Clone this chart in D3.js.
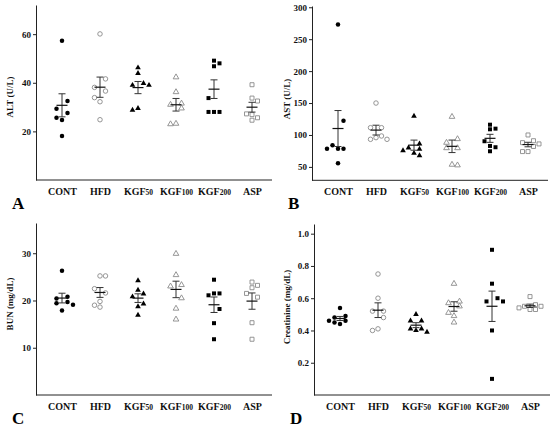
<!DOCTYPE html>
<html>
<head>
<meta charset="utf-8">
<script src="https://cdn.jsdelivr.net/npm/d3@7"></script>
<style>
  body { margin: 0; background: #fff; }
  svg { display: block; }
  text { font-family: "Liberation Serif", "Times New Roman", serif; font-weight: bold; }
</style>
</head>
<body>
<div id="chart"></div>
<script>
// group names on the x axis
var groups = ["CONT", "HFD", "KGF50", "KGF100", "KGF200", "ASP"];

// individual animals per group
var altData = [
  [57.3, 32.5, 29.3, 27.6, 25.6, 24.7, 18.1],
  [60.1, 41.6, 38.1, 36.6, 33.9, 32.2, 24.8],
  [46.2, 43.9, 39.8, 39.0, 39.0, 29.5, 28.8],
  [42.3, 36.2, 31.5, 31.0, 29.5, 23.2, 23.0],
  [49.1, 48.0, 46.8, 33.7, 28.0, 28.0, 28.0],
  [39.2, 33.7, 32.5, 27.2, 26.9, 25.6, 24.6]
];
var astData = [
  [273, 122.3, 83.9, 78.6, 78.6, 78.6, 55.8],
  [150, 111.4, 111.4, 98.4, 95.8, 93.2, 93.2],
  [129.7, 86, 80, 78, 75.5, 71.4, 67.7],
  [128.6, 93.7, 88, 79.5, 79.5, 53.6, 52.6],
  [116.1, 109.9, 108.9, 90.2, 82.8, 80.8, 74.5],
  [100, 91, 88, 86, 82, 74, 74]
];
var bunData = [
  [26.3, 20.8, 20.4, 19.7, 19.4, 19.1, 17.9],
  [25.2, 25.2, 22.5, 21.6, 19.8, 19.0, 18.6],
  [24.2, 22.2, 21.4, 20.8, 19.3, 18.7, 16.9],
  [29.9, 25.4, 23.3, 23.0, 20.5, 18.3, 16.0],
  [24.4, 21.5, 21.5, 21.1, 18.2, 15.2, 11.8],
  [23.9, 23.2, 22.7, 21.5, 20.7, 15.3, 11.8]
];
var creData = [
  [0.54, 0.49, 0.48, 0.46, 0.46, 0.45, 0.44],
  [0.75, 0.60, 0.52, 0.52, 0.48, 0.41, 0.40],
  [0.50, 0.46, 0.46, 0.41, 0.41, 0.40, 0.39],
  [0.69, 0.58, 0.57, 0.55, 0.51, 0.49, 0.45],
  [0.90, 0.69, 0.60, 0.58, 0.58, 0.40, 0.10],
  [0.61, 0.56, 0.55, 0.55, 0.54, 0.53, 0.53]
];

var altTicks = [20, 40, 60];
var astTicks = [50, 100, 150, 200, 250, 300];
var bunTicks = [10, 20, 30];
var creTicks = [0.2, 0.4, 0.6, 0.8, 1.0];

// symbol per group: filled / open circle, triangle, square
var shapes = [d3.symbolCircle, d3.symbolCircle, d3.symbolTriangle, d3.symbolTriangle, d3.symbolSquare, d3.symbolSquare];
var filled = [true, false, true, false, true, false];

var panels = [
  {letter: "A", title: "ALT (U/L)", data: altData, ticks: altTicks, domain: [0, 72],
   left: 36, top: 5, bottom: 180, titleX: 12.5, titleY: 97, fmt: d3.format("d")},
  {letter: "B", title: "AST (U/L)", data: astData, ticks: astTicks, domain: [29, 302],
   left: 312, top: 6, bottom: 180.3, titleX: 290, titleY: 99, fmt: d3.format("d")},
  {letter: "C", title: "BUN (mg/dL)", data: bunData, ticks: bunTicks, domain: [0, 36.4],
   left: 36, top: 223, bottom: 395, titleX: 12.5, titleY: 304, fmt: d3.format("d")},
  {letter: "D", title: "Creatinine (mg/dL)", data: creData, ticks: creTicks, domain: [0, 1.06],
   left: 314, top: 224, bottom: 395, titleX: 290, titleY: 307, fmt: d3.format(".1f")}
];

var W = 550, H = 428, plotW = 236;

var svg = d3.select("#chart")
  .append("svg")
    .attr("width", W)
    .attr("height", H);

// mean and standard error of one group
function stats(vals) {
  var m = d3.mean(vals);
  return {mean: m, sem: d3.deviation(vals) / Math.sqrt(vals.length)};
}

// simple greedy beeswarm: keep points off the error bar and off each other,
// alternating sides like the original plot
function swarm(vals, y, st) {
  var order = vals.map(function(v, i) { return i; })
    .sort(function(a, b) { return vals[b] - vals[a]; });
  var placed = [], side = 1, step = 5.5, minDist = 4.5;
  var barTop = y(st.mean + st.sem) - 2, barBot = y(st.mean - st.sem) + 2;
  var offs = [];
  order.forEach(function(i) {
    var py = y(vals[i]);
    var cands = (py >= barTop && py <= barBot) ? [] : [0];
    for (var k = 1; k <= 8; k++) cands.push(side * k * step, -side * k * step);
    for (var c = 0; c < cands.length; c++) {
      var dx = cands[c];
      var ok = placed.every(function(p) { return Math.hypot(p.dx - dx, p.y - py) >= minDist; });
      if (ok) {
        offs[i] = dx;
        placed.push({dx: dx, y: py});
        if (dx !== 0) side = dx > 0 ? -1 : 1;
        break;
      }
    }
  });
  return offs;
}

panels.forEach(function(p) {
  var g = svg.append("g").attr("transform", "translate(" + p.left + ",0)");

  var x = d3.scalePoint()
    .domain(groups)
    .range([26, 216]);
  var y = d3.scaleLinear()
    .domain(p.domain)
    .range([p.bottom, p.top]);

  // y axis
  var yax = g.append("g")
    .call(d3.axisLeft(y).tickValues(p.ticks).tickSize(3).tickSizeOuter(0).tickPadding(2).tickFormat(p.fmt));
  yax.select(".domain").attr("stroke", "#222");
  yax.selectAll(".tick line").attr("stroke", "#222");
  yax.selectAll(".tick text")
    .attr("font-size", 9)
    .attr("font-family", "Liberation Serif")
    .attr("font-weight", "bold")
    .attr("fill", "#111");

  // x axis line across the whole panel
  g.append("line")
    .attr("x1", 0).attr("x2", plotW)
    .attr("y1", p.bottom).attr("y2", p.bottom)
    .attr("stroke", "#222");

  var xax = g.append("g")
    .attr("transform", "translate(0," + p.bottom + ")")
    .call(d3.axisBottom(x).tickSize(0).tickPadding(0));
  xax.select(".domain").remove();
  xax.selectAll(".tick text")
    .attr("y", 15)
    .attr("dy", 0)
    .attr("font-size", 10)
    .attr("font-family", "Liberation Serif")
    .attr("font-weight", "bold")
    .attr("fill", "#111")
    .text(null)
    .each(function(d) {
      var m = d.match(/^(\D+)(\d*)$/);
      var t = d3.select(this);
      t.append("tspan").text(m[1]);
      if (m[2]) t.append("tspan").attr("font-size", 7.5).text(m[2]);
    });

  // y title
  g.append("text")
    .attr("transform", "translate(" + (p.titleX - p.left) + "," + p.titleY + ") rotate(-90)")
    .attr("text-anchor", "middle")
    .attr("font-size", 9)
    .attr("fill", "#111")
    .text(p.title);

  // panel letter
  g.append("text")
    .attr("x", -24)
    .attr("y", p.bottom + 29)
    .attr("font-size", 17)
    .attr("fill", "#000")
    .text(p.letter);

  // points
  p.data.forEach(function(vals, gi) {
    var st = stats(vals);
    var offs = swarm(vals, y, st);
    var cx = x(groups[gi]);
    var sym = d3.symbol().type(shapes[gi]).size(shapes[gi] === d3.symbolTriangle ? 14 : 16);

    g.append("g")
      .selectAll("path")
      .data(vals)
      .enter()
      .append("path")
        .attr("d", sym)
        .attr("transform", function(d, i) { return "translate(" + (cx + offs[i]) + "," + y(d) + ")"; })
        .style("fill", filled[gi] ? "#000" : "#fff")
        .style("stroke", filled[gi] ? "none" : "#8a8a8a")
        .style("stroke-width", 0.9);

    // mean +/- SEM
    var eb = g.append("g").attr("stroke", "#333").attr("stroke-width", 1);
    eb.append("line")
      .attr("x1", cx).attr("x2", cx)
      .attr("y1", y(st.mean + st.sem)).attr("y2", y(st.mean - st.sem));
    [st.mean + st.sem, st.mean - st.sem].forEach(function(v) {
      eb.append("line")
        .attr("x1", cx - 3.5).attr("x2", cx + 3.5)
        .attr("y1", y(v)).attr("y2", y(v));
    });
    eb.append("line")
      .attr("x1", cx - 5.5).attr("x2", cx + 5.5)
      .attr("y1", y(st.mean)).attr("y2", y(st.mean))
      .attr("stroke", "#111")
      .attr("stroke-width", 1.2);
  });
});
</script>
</body>
</html>
